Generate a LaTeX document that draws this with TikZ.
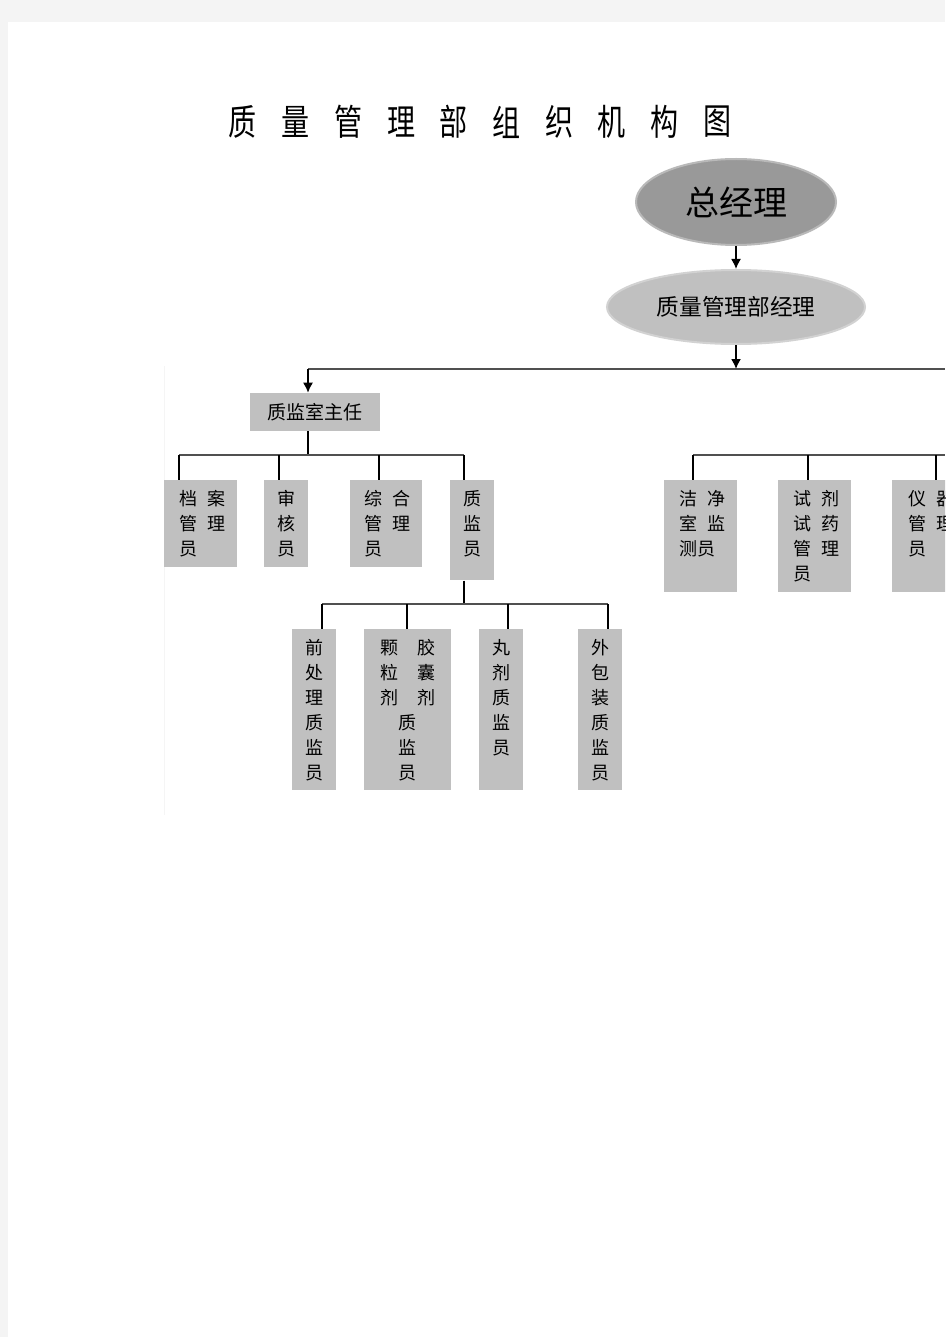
\documentclass[tikz,border=0pt]{standalone}
\usepackage{fontspec}
\setmainfont{Noto Sans CJK SC}
\usetikzlibrary{arrows.meta,shapes.geometric}

\definecolor{pagegray}{HTML}{F4F4F4}
\definecolor{boxgray}{HTML}{C0C0C0}
\definecolor{headgray}{HTML}{999999}
\definecolor{linegray}{HTML}{505050}

\newlength{\boxpad}\setlength{\boxpad}{7.8pt}
\newcommand{\boxtext}[3]{\parbox[c][#2][t]{#1}{\vspace*{\boxpad}\fontsize{13.5pt}{18.75pt}\selectfont#3\par}}

\tikzset{
  staff/.style={fill=boxgray, inner sep=0pt, anchor=north west},
  link/.style={draw=black, line width=1.1pt},
  bus/.style={draw=linegray, line width=1.1pt},
  tip/.style={-{Latex[length=7.5pt,width=7.5pt]}},
  head/.style={ellipse, inner sep=0pt, line width=1.5pt}
}

\begin{document}
\begin{tikzpicture}[x=0.75pt,y=-0.75pt]
\useasboundingbox (0,0) rectangle (945,1337);
\fill[pagegray] (0,0) rectangle (945,1337);
\fill[white] (8,22) rectangle (945,1337);
\clip (0,0) rectangle (945,1337);
\draw[gray!8, line width=0.75pt] (164,366) -- (164,815);

% title
\foreach \ch [count=\i] in {质,量,管,理,部,组,织,机,构,图}
  \node[font=\fontsize{27pt}{27pt}\selectfont] (title\i) at ({243+52.7*(\i-1)},122) {\scalebox{0.78}[1]{\ch}};

% managers
\node[head, fill=headgray, draw=gray!55, minimum width=150pt, minimum height=64.5pt,
      font=\fontsize{25.5pt}{25.5pt}\selectfont] (gm) at (736,202) {总经理};
\node[head, fill=boxgray, draw=gray!35, minimum width=193.5pt, minimum height=55.5pt,
      font=\fontsize{17pt}{17pt}\selectfont] (qm) at (736,307) {质量管理部经理};
\draw[link,tip] (gm) -- (qm);

% main line
\coordinate (tapL) at (308,369);
\coordinate (mainR) at (945,369);
\draw[bus] (tapL) -- (mainR);
\draw[link,tip] (qm) -- (qm.south |- tapL);

\node[staff, anchor=center, minimum width=97.5pt, minimum height=28.5pt,
      font=\fontsize{14.25pt}{14.25pt}\selectfont] (chief) at (315,412) {质监室主任};
\draw[link,tip] (tapL) -- (tapL |- chief.north);

% quality room
\foreach \n/\x in {a0/308, a1/179, a2/279, a3/379, a4/464}
  \coordinate (\n) at (\x,455);
\draw[link] (a0 |- chief.south) -- (a0);
\draw[bus] (a1) -- (a4);

\node[staff] (archive) at (164,480) {\boxtext{54.75pt}{65.25pt}{\leftskip=11.25pt 档\hspace{7.5pt}案\\管\hspace{7.5pt}理\\员}};
\node[staff] (audit) at (264,480) {\boxtext{33pt}{65.25pt}{\centering 审\\核\\员}};
\node[staff] (admin) at (350,480) {\boxtext{54pt}{65.25pt}{\leftskip=10.5pt 综\hspace{7.5pt}合\\管\hspace{7.5pt}理\\员}};
\node[staff] (inspect) at (450,480) {\boxtext{33pt}{75pt}{\centering 质\\监\\员}};

\draw[link] (a1) -- (a1 |- archive.north);
\draw[link] (a2) -- (a2 |- audit.north);
\draw[link] (a3) -- (a3 |- admin.north);
\draw[link] (a4) -- (a4 |- inspect.north);

% inspectors
\foreach \n/\x in {b0/464, b1/322, b2/407, b3/508, b4/608}
  \coordinate (\n) at (\x,604);
\draw[link] (b0 |- inspect.south) -- (b0);
\draw[bus] (b1) -- (b4);

\node[staff] (pretreat) at (292,629) {\boxtext{33pt}{120.75pt}{\centering 前\\处\\理\\质\\监\\员}};
\node[staff] (granule) at (364,629) {\boxtext{65.25pt}{120.75pt}{\centering 颗\hspace{14.25pt}胶\\粒\hspace{14.25pt}囊\\剂\hspace{14.25pt}剂\\质\\监\\员}};
\node[staff] (pill) at (479,629) {\boxtext{33pt}{120.75pt}{\centering 丸\\剂\\质\\监\\员}};
\node[staff] (package) at (578,629) {\boxtext{33pt}{120.75pt}{\centering 外\\包\\装\\质\\监\\员}};

\draw[link] (b1) -- (b1 |- pretreat.north);
\draw[link] (b2) -- (b2 |- granule.north);
\draw[link] (b3) -- (b3 |- pill.north);
\draw[link] (b4) -- (b4 |- package.north);

% testing room
\foreach \n/\x in {c1/693, c2/808, c3/936, cR/945}
  \coordinate (\n) at (\x,455);
\draw[bus] (c1) -- (cR);

\node[staff] (clean) at (664,480) {\boxtext{54.75pt}{84pt}{\leftskip=11.25pt 洁\hspace{7.5pt}净\\室\hspace{7.5pt}监\\测员}};
\node[staff] (reagent) at (778,480) {\boxtext{54.75pt}{84pt}{\leftskip=11.25pt 试\hspace{7.5pt}剂\\试\hspace{7.5pt}药\\管\hspace{7.5pt}理\\员}};
\node[staff] (device) at (892,480) {\boxtext{66pt}{84pt}{\leftskip=12pt 仪\hspace{7.5pt}器\\管\hspace{7.5pt}理\\员}};

\draw[link] (c1) -- (c1 |- clean.north);
\draw[link] (c2) -- (c2 |- reagent.north);
\draw[link] (c3) -- (c3 |- device.north);
\end{tikzpicture}
\end{document}
